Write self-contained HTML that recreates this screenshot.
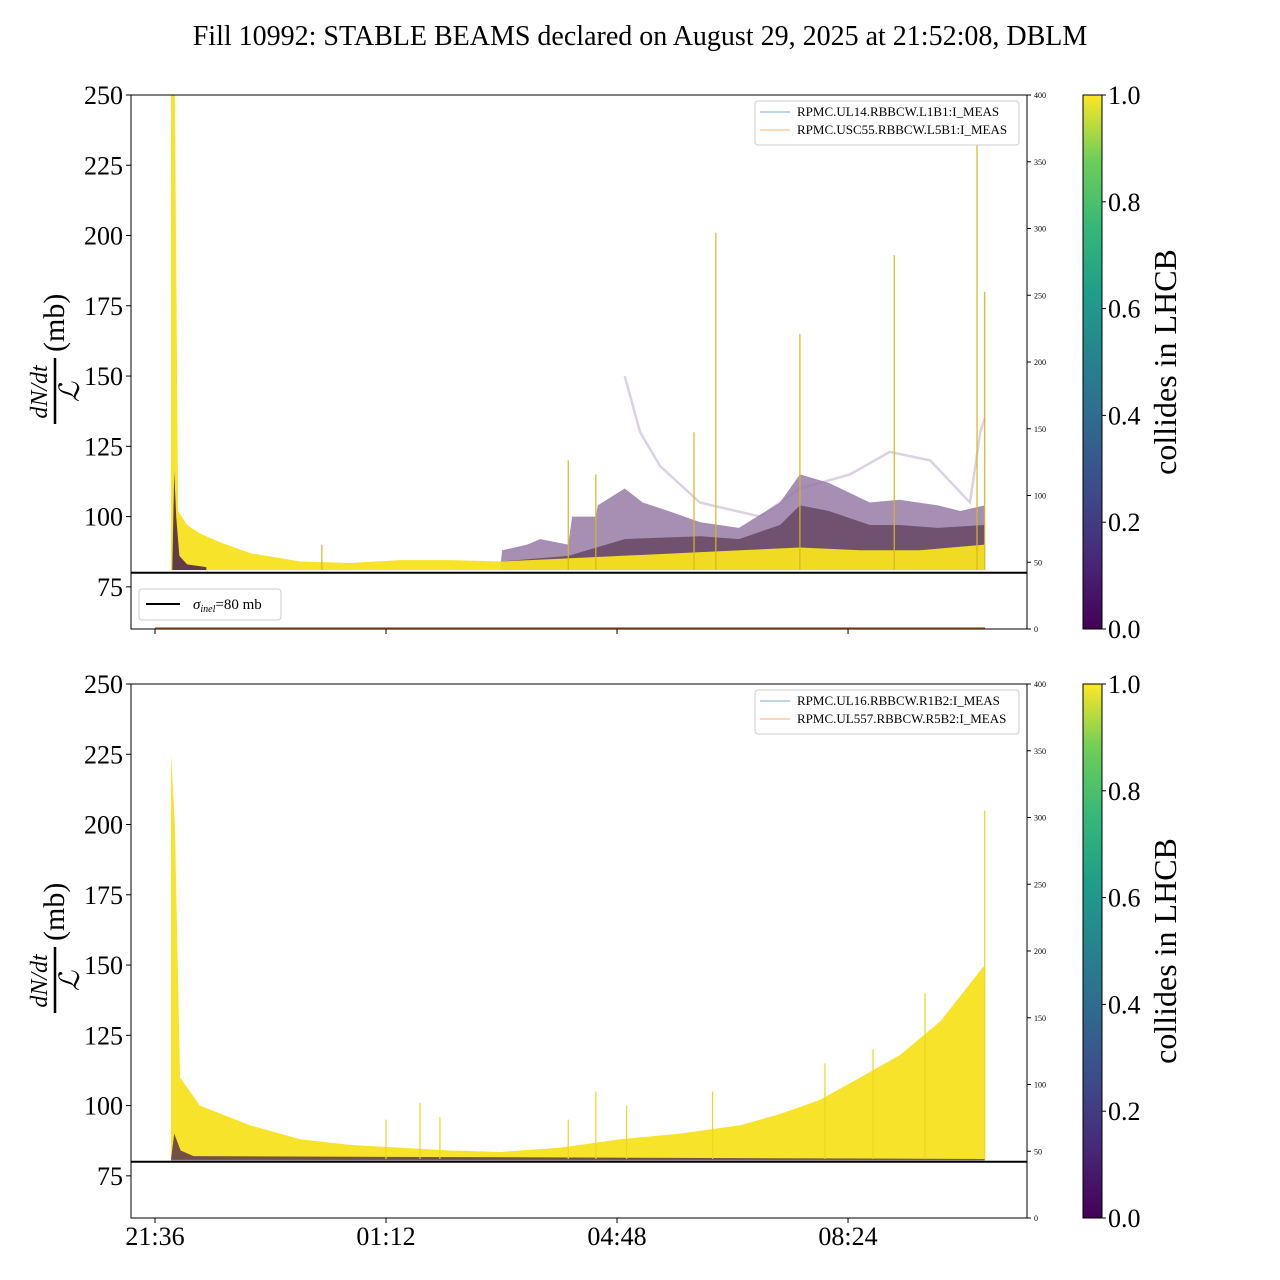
<!DOCTYPE html>
<html><head><meta charset="utf-8"><style>
html,body{margin:0;padding:0;background:#fff}
svg{display:block;font-family:"Liberation Serif",serif}
</style></head><body>
<svg id="chart" width="1280" height="1280" viewBox="0 0 1280 1280">
<defs>
<linearGradient id="vir" x1="0" y1="1" x2="0" y2="0">
<stop offset="0" stop-color="#440154"/><stop offset="0.13" stop-color="#482878"/><stop offset="0.25" stop-color="#3e4989"/>
<stop offset="0.38" stop-color="#31688e"/><stop offset="0.5" stop-color="#26828e"/><stop offset="0.63" stop-color="#1f9e89"/>
<stop offset="0.75" stop-color="#35b779"/><stop offset="0.88" stop-color="#6ece58"/><stop offset="1" stop-color="#fde725"/>
</linearGradient>
<clipPath id="clipTop"><rect x="131" y="95" width="896" height="534"/></clipPath>
<clipPath id="clipBot"><rect x="131" y="684" width="896" height="533"/></clipPath>
</defs>
<text x="640" y="45" text-anchor="middle" font-size="28">Fill 10992: STABLE BEAMS declared on August 29, 2025 at 21:52:08, DBLM</text>
<g id="plots"></g>
</svg>
<script>
// ---- data (time in hours after 21:36, values in mb) ----
const xTickLabels = ["21:36","01:12","04:48","08:24"];
const xTickHours = [0,3.6,7.2,10.8];
const yTicks = [75,100,125,150,175,200,225,250];
const rTicks = [0,50,100,150,200,250,300,350,400];
const cbTicks = ["0.0","0.2","0.4","0.6","0.8","1.0"];

const topYellowT = [0.25,0.31,0.36,0.5,0.7,1.0,1.48,2.26,3.04,3.82,4.6,5.38,6.31,7.25,8.18,9.12,10.05,10.99,11.92,12.93];
const topYellowV = [250,250,102,97,94,91,87,84,83.5,84.5,84.5,84,85,86,87,88,89,88,88,90];
const topPurpleT = [5.38,5.41,5.8,6.0,6.44,6.5,6.87,6.9,7.32,7.6,8.0,8.5,9.1,9.74,10.05,10.5,11.14,11.6,12.2,12.55,12.93];
const topPurpleV = [82,88,90,92,90,100,100,104,110,105,102,98,96,105,115,112,105,106,104,102,104];
const topMixT = [5.38,6.44,7.32,8.5,9.1,9.74,10.05,10.5,11.14,11.6,12.2,12.93];
const topMixV = [84,86,92,93,92,97,104,102,97,97,96,97];
const topEarlyPurpleT = [0.27,0.3,0.33,0.38,0.5,0.8];
const topEarlyPurpleV = [82,116,100,86,83,82];
const topFaintT = [7.32,7.56,7.87,8.49,9.43,10.05,10.83,11.45,12.08,12.7,12.86,12.93];
const topFaintV = [150,130,118,105,100,110,115,123,120,105,130,135];
const topSpikeT = [2.6,6.44,6.87,8.4,8.74,10.05,11.52,12.81,12.93];
const topSpikeV = [90,120,115,130,201,165,193,232,180];

const botYellowT = [0.25,0.31,0.39,0.7,1.48,2.26,3.04,3.82,4.6,5.38,6.31,7.25,8.18,9.12,9.74,10.36,10.99,11.61,12.24,12.93];
const botYellowV = [225,200,110,100,93,88,86,85,84,83.5,85,88,90,93,97,102,110,118,130,150];
const botPurpleT = [0.25,0.3,0.4,0.6,12.93];
const botPurpleV = [81,90,84,82,81];
const botSpikeT = [3.6,4.13,4.44,6.44,6.87,7.35,8.69,10.44,11.19,12.0,12.93];
const botSpikeV = [95,101,96,95,105,100,105,115,120,140,205];

const SVGNS="http://www.w3.org/2000/svg";
const root=document.getElementById('plots');
function mk(tag,attrs,parent){const e=document.createElementNS(SVGNS,tag);for(const k in attrs)e.setAttribute(k,attrs[k]);(parent||root).appendChild(e);return e;}
const xS=t=>155+t*64.17;
function panel(y0,name){
  const y1=y0+534;
  const yS=v=>y0+(250-v)*(534/190);
  const rS=v=>y1-v*534/400;
  return {y0,y1,yS,rS,name};
}
function area(p,T,V,base,attrs,clip){
  let d=`M${xS(T[0])},${p.yS(base)}`;
  for(let i=0;i<T.length;i++)d+=` L${xS(T[i])},${p.yS(V[i])}`;
  d+=` L${xS(T[T.length-1])},${p.yS(base)} Z`;
  return mk('path',Object.assign({d,'clip-path':clip},attrs));
}
function line(p,T,V,attrs,clip){
  let d='';for(let i=0;i<T.length;i++)d+=(i?' L':'M')+xS(T[i])+','+p.yS(V[i]);
  return mk('path',Object.assign({d,fill:'none','clip-path':clip},attrs));
}
function axes(p,legend1,legend2,showXLabels){
  const g=mk('g',{});
  
  
  yTicks.forEach(v=>{const y=p.yS(v);
    mk('line',{x1:126,x2:131,y1:y,y2:y,stroke:'#000'},g);
    const t=mk('text',{x:123,y:y+9,'text-anchor':'end','font-size':26},g);t.textContent=v;
    
    
  });
  rTicks.forEach(v=>{const y=p.rS(v);
    mk('line',{x1:1027,x2:1031,y1:y,y2:y,stroke:'#000'},g);
    const t=mk('text',{x:1034,y:y+3,'font-size':8},g);t.textContent=v;
    
    
  });
  xTickHours.forEach((h,i)=>{const x=xS(h);
    mk('line',{x1:x,x2:x,y1:p.y1,y2:p.y1+5,stroke:'#000'},g);
    if(showXLabels){const t=mk('text',{x:x,y:p.y1+27,'text-anchor':'middle','font-size':26},g);t.textContent=xTickLabels[i];
      
      }
  });
  mk('rect',{x:131,y:p.y0,width:896,height:534,fill:'none',stroke:'#000','stroke-width':1},g);
  const yl=mk('g',{transform:`translate(55,${p.y0+267}) rotate(-90)`},g);
  
  
  let t=mk('text',{x:-30,y:-8,'text-anchor':'middle','font-size':24,'font-style':'italic'},yl);t.textContent='dN/dt';
  mk('line',{x1:-62,x2:4,y1:0,y2:0,stroke:'#000','stroke-width':2.5},yl);
  t=mk('text',{x:-30,y:24,'text-anchor':'middle','font-size':28,'font-style':'italic','font-family':'DejaVu Serif'},yl);t.textContent='ℒ';
  t=mk('text',{x:10,y:9,'font-size':30},yl);t.textContent='(mb)';
  const lg=mk('g',{},g);
  
  
  mk('rect',{x:755,y:p.y0+6,width:264,height:44,rx:3,fill:'#fff','fill-opacity':0.85,stroke:'#ccc'},lg);
  mk('line',{x1:760,x2:790,y1:p.y0+17,y2:p.y0+17,stroke:'#1f77b4','stroke-opacity':0.6},lg);
  mk('line',{x1:760,x2:790,y1:p.y0+35,y2:p.y0+35,stroke:'#ff7f0e','stroke-opacity':0.6},lg);
  t=mk('text',{x:797,y:p.y0+21,'font-size':13},lg);t.textContent=legend1;
  t=mk('text',{x:797,y:p.y0+39,'font-size':13},lg);t.textContent=legend2;
  const cb=mk('g',{},g);
  
  
  mk('rect',{x:1083,y:p.y0,width:19,height:534,fill:'url(#vir)'},cb);
  mk('rect',{x:1083,y:p.y0,width:19,height:534,fill:'none',stroke:'#000'},cb);
  cbTicks.forEach((s,i)=>{const y=p.y1-i*534/5;
    mk('line',{x1:1102,x2:1106,y1:y,y2:y,stroke:'#000'},cb);
    const tt=mk('text',{x:1108,y:y+9,'font-size':26},cb);tt.textContent=s;});
  t=mk('text',{x:0,y:0,'font-size':32,'text-anchor':'middle',transform:`translate(1176,${p.y0+267}) rotate(-90)`},cb);t.textContent='collides in LHCB';
}
function spikes(p,T,V,color,clip){
  T.forEach((tt,i)=>{const e=mk('line',{x1:xS(tt),x2:xS(tt),y1:p.yS(81),y2:p.yS(V[i]),stroke:color,'stroke-width':1.2,'clip-path':clip});
    
    });
}
// TOP
const P1=panel(95,'top-panel');
let e;
e=area(P1,topPurpleT,topPurpleV,81,{fill:'#6a4480','fill-opacity':0.6},'url(#clipTop)');


e=area(P1,topMixT,topMixV,81,{fill:'#5e3c5a','fill-opacity':0.75},'url(#clipTop)');


e=area(P1,topYellowT,topYellowV,81,{fill:'#f7e11e','fill-opacity':0.95},'url(#clipTop)');


e=area(P1,topEarlyPurpleT,topEarlyPurpleV,81,{fill:'#3b1050','fill-opacity':0.8},'url(#clipTop)');


e=line(P1,topFaintT,topFaintV,{stroke:'#9a7cae','stroke-opacity':0.35,'stroke-width':2.5},'url(#clipTop)');


spikes(P1,topSpikeT,topSpikeV,'#d4b820','url(#clipTop)');
mk('line',{x1:155,x2:985,y1:P1.y1-1,y2:P1.y1-1,stroke:'#c0703a','stroke-width':1.5});
e=mk('line',{x1:131,x2:1027,y1:P1.yS(80),y2:P1.yS(80),stroke:'#000','stroke-width':2});


axes(P1,'RPMC.UL14.RBBCW.L1B1:I_MEAS','RPMC.USC55.RBBCW.L5B1:I_MEAS',false);
const l2=mk('g',{});


mk('rect',{x:139,y:589,width:142,height:31,rx:3,fill:'#fff',stroke:'#ccc'},l2);
mk('line',{x1:146,x2:180,y1:604,y2:604,stroke:'#000','stroke-width':2},l2);
let tx=mk('text',{x:193,y:609,'font-size':15},l2);tx.innerHTML='<tspan font-style="italic">σ</tspan><tspan font-style="italic" font-size="10" dy="3">inel</tspan><tspan dy="-3">=80 mb</tspan>';
// BOTTOM
const P2=panel(684,'bottom-panel');
e=area(P2,botYellowT,botYellowV,81,{fill:'#f7e11e','fill-opacity':0.95},'url(#clipBot)');


e=area(P2,botPurpleT,botPurpleV,80.5,{fill:'#3b1050','fill-opacity':0.7},'url(#clipBot)');


spikes(P2,botSpikeT,botSpikeV,'#ecd520','url(#clipBot)');
e=mk('line',{x1:131,x2:1027,y1:P2.yS(80),y2:P2.yS(80),stroke:'#000','stroke-width':2});


axes(P2,'RPMC.UL16.RBBCW.R1B2:I_MEAS','RPMC.UL557.RBBCW.R5B2:I_MEAS',true);
</script>
</body></html>
